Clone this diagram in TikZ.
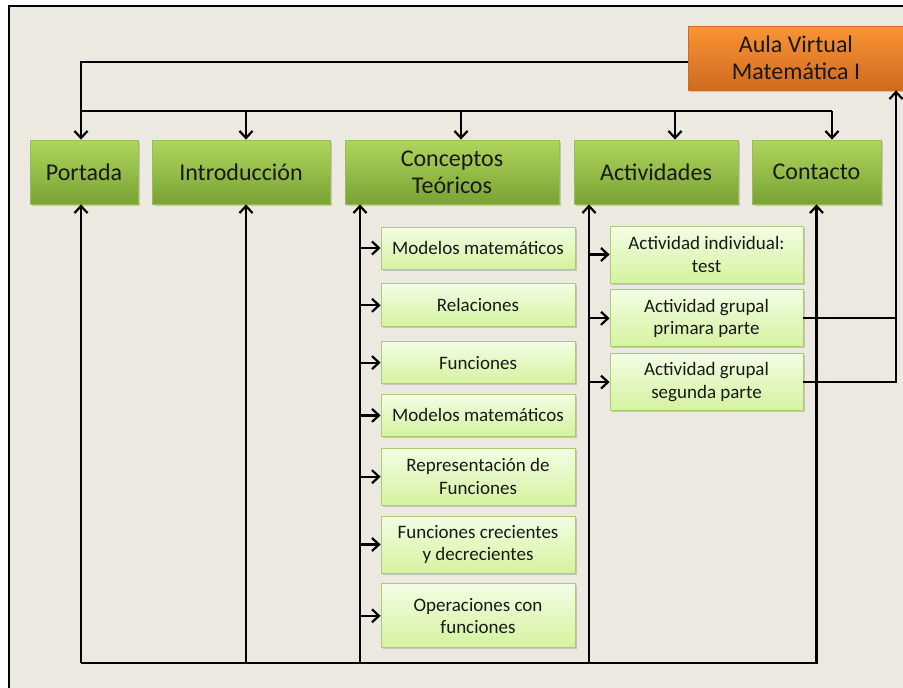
\documentclass[tikz,border=0pt]{standalone}
\usepackage{fontspec}
\setmainfont{Carlito}
\usepackage{tikz}
\usetikzlibrary{
  shapes,
  shadows,
  calc,
  positioning,
  arrows.meta
}
\definecolor{pagebg}{RGB}{236,233,224}
\definecolor{greentop}{RGB}{174,214,92}
\definecolor{greenbot}{RGB}{122,162,52}
\definecolor{greenedge}{RGB}{150,190,80}
\definecolor{lighttop}{RGB}{243,253,228}
\definecolor{lightbot}{RGB}{212,243,158}
\definecolor{lightedge}{RGB}{170,205,112}
\definecolor{orangetop}{RGB}{250,148,52}
\definecolor{orangebot}{RGB}{208,106,32}

\begin{document}
\begin{tikzpicture}[x=1pt,y=-1pt,
  box/.style={rectangle,draw=#1,line width=0.8pt,align=center,inner sep=2pt,text=black!90,
    drop shadow={shadow xshift=1.5pt,shadow yshift=-1.5pt,opacity=0.35}},
  mainbox/.style={box=greenedge,top color=greentop,bottom color=greenbot,minimum height=64pt,
    font=\fontsize{24}{27}\selectfont},
  aulabox/.style={box=orangebot,top color=orangetop,bottom color=orangebot,minimum height=64pt,
    font=\fontsize{24}{27}\selectfont},
  subbox/.style={box=lightedge,top color=lighttop,bottom color=lightbot,minimum width=194pt,
    font=\fontsize{19}{22.5}\selectfont},
  link/.style={line width=2.2pt},
  ar/.style={link,-{Straight Barb[length=7pt,width=13pt]}}
]
  \useasboundingbox (0,0) rectangle (903,688);
  \fill[white] (0,0) rectangle (903,688);
  \fill[pagebg] (9,6) rectangle (903,688);
  \draw[line width=1.2pt] (9,688) -- (9,6) -- (903,6);

  \node[aulabox,minimum width=216pt] (aula) at (796,58) {Aula Virtual\\Matemática I};
  \node[mainbox,minimum width=108pt] (portada) at (84,172) {Portada};
  \node[mainbox,minimum width=178pt] (intro) at (241,172) {Introducción};
  \node[mainbox,minimum width=214pt] (conc) at (452,172) {Conceptos\\Teóricos};
  \node[mainbox,minimum width=164pt] (act) at (656,172) {Actividades};
  \node[mainbox,minimum width=129pt] (cont) at (816.5,172) {Contacto};

  \node[subbox,minimum height=42pt] (mm1) at (478,248) {Modelos matemáticos};
  \node[subbox,minimum height=43pt,below=14pt of mm1] (rel) {Relaciones};
  \node[subbox,minimum height=42pt,below=14pt of rel] (func) {Funciones};
  \node[subbox,minimum height=42pt,below=10pt of func] (mm2) {Modelos matemáticos};
  \node[subbox,minimum height=57pt,below=11pt of mm2] (rep) {Representación de\\Funciones};
  \node[subbox,minimum height=57pt,below=10pt of rep] (fcre) {Funciones crecientes\\y decrecientes};
  \node[subbox,minimum height=64pt,below=10pt of fcre] (oper) {Operaciones con\\funciones};

  \node[subbox,minimum width=193pt,minimum height=57pt] (ai) at (706.5,254.5) {Actividad individual:\\test};
  \node[subbox,minimum width=193pt,minimum height=57pt,below=6pt of ai] (agp) {Actividad grupal\\primara parte};
  \node[subbox,minimum width=193pt,minimum height=57pt,below=6pt of agp] (ags) {Actividad grupal\\segunda parte};

  \coordinate (top) at (81,62);
  \coordinate (bus) at (81,111);
  \coordinate (rv) at (896,0);
  \draw[ar] (aula.west |- top) -| (top |- portada.north);
  \foreach \x/\n in {246/intro,461/conc,675/act,832/cont} {
    \coordinate (b\n) at (\x,111);
    \draw[ar] (b\n) -- (b\n |- \n.north);
  }
  \draw[link] (bus) -- (bcont);

  \foreach \x/\n in {81/portada,246/intro,360/conc,589/act} {
    \coordinate (l\n) at (\x,663);
    \draw[ar] (l\n) -- (l\n |- \n.south);
  }
  \draw[ar] (lportada) -| (cont.south);

  \foreach \n in {mm1,rel,func,mm2,rep,fcre,oper}
    \draw[ar] (lconc |- \n.west) -- (\n.west);
  \foreach \n in {ai,agp,ags}
    \draw[ar] (lact |- \n.west) -- (\n.west);

  \draw[link] (agp.east) -- (agp.east -| rv);
  \draw[ar] (ags.east) -| (rv |- aula.south);
\end{tikzpicture}
\end{document}
